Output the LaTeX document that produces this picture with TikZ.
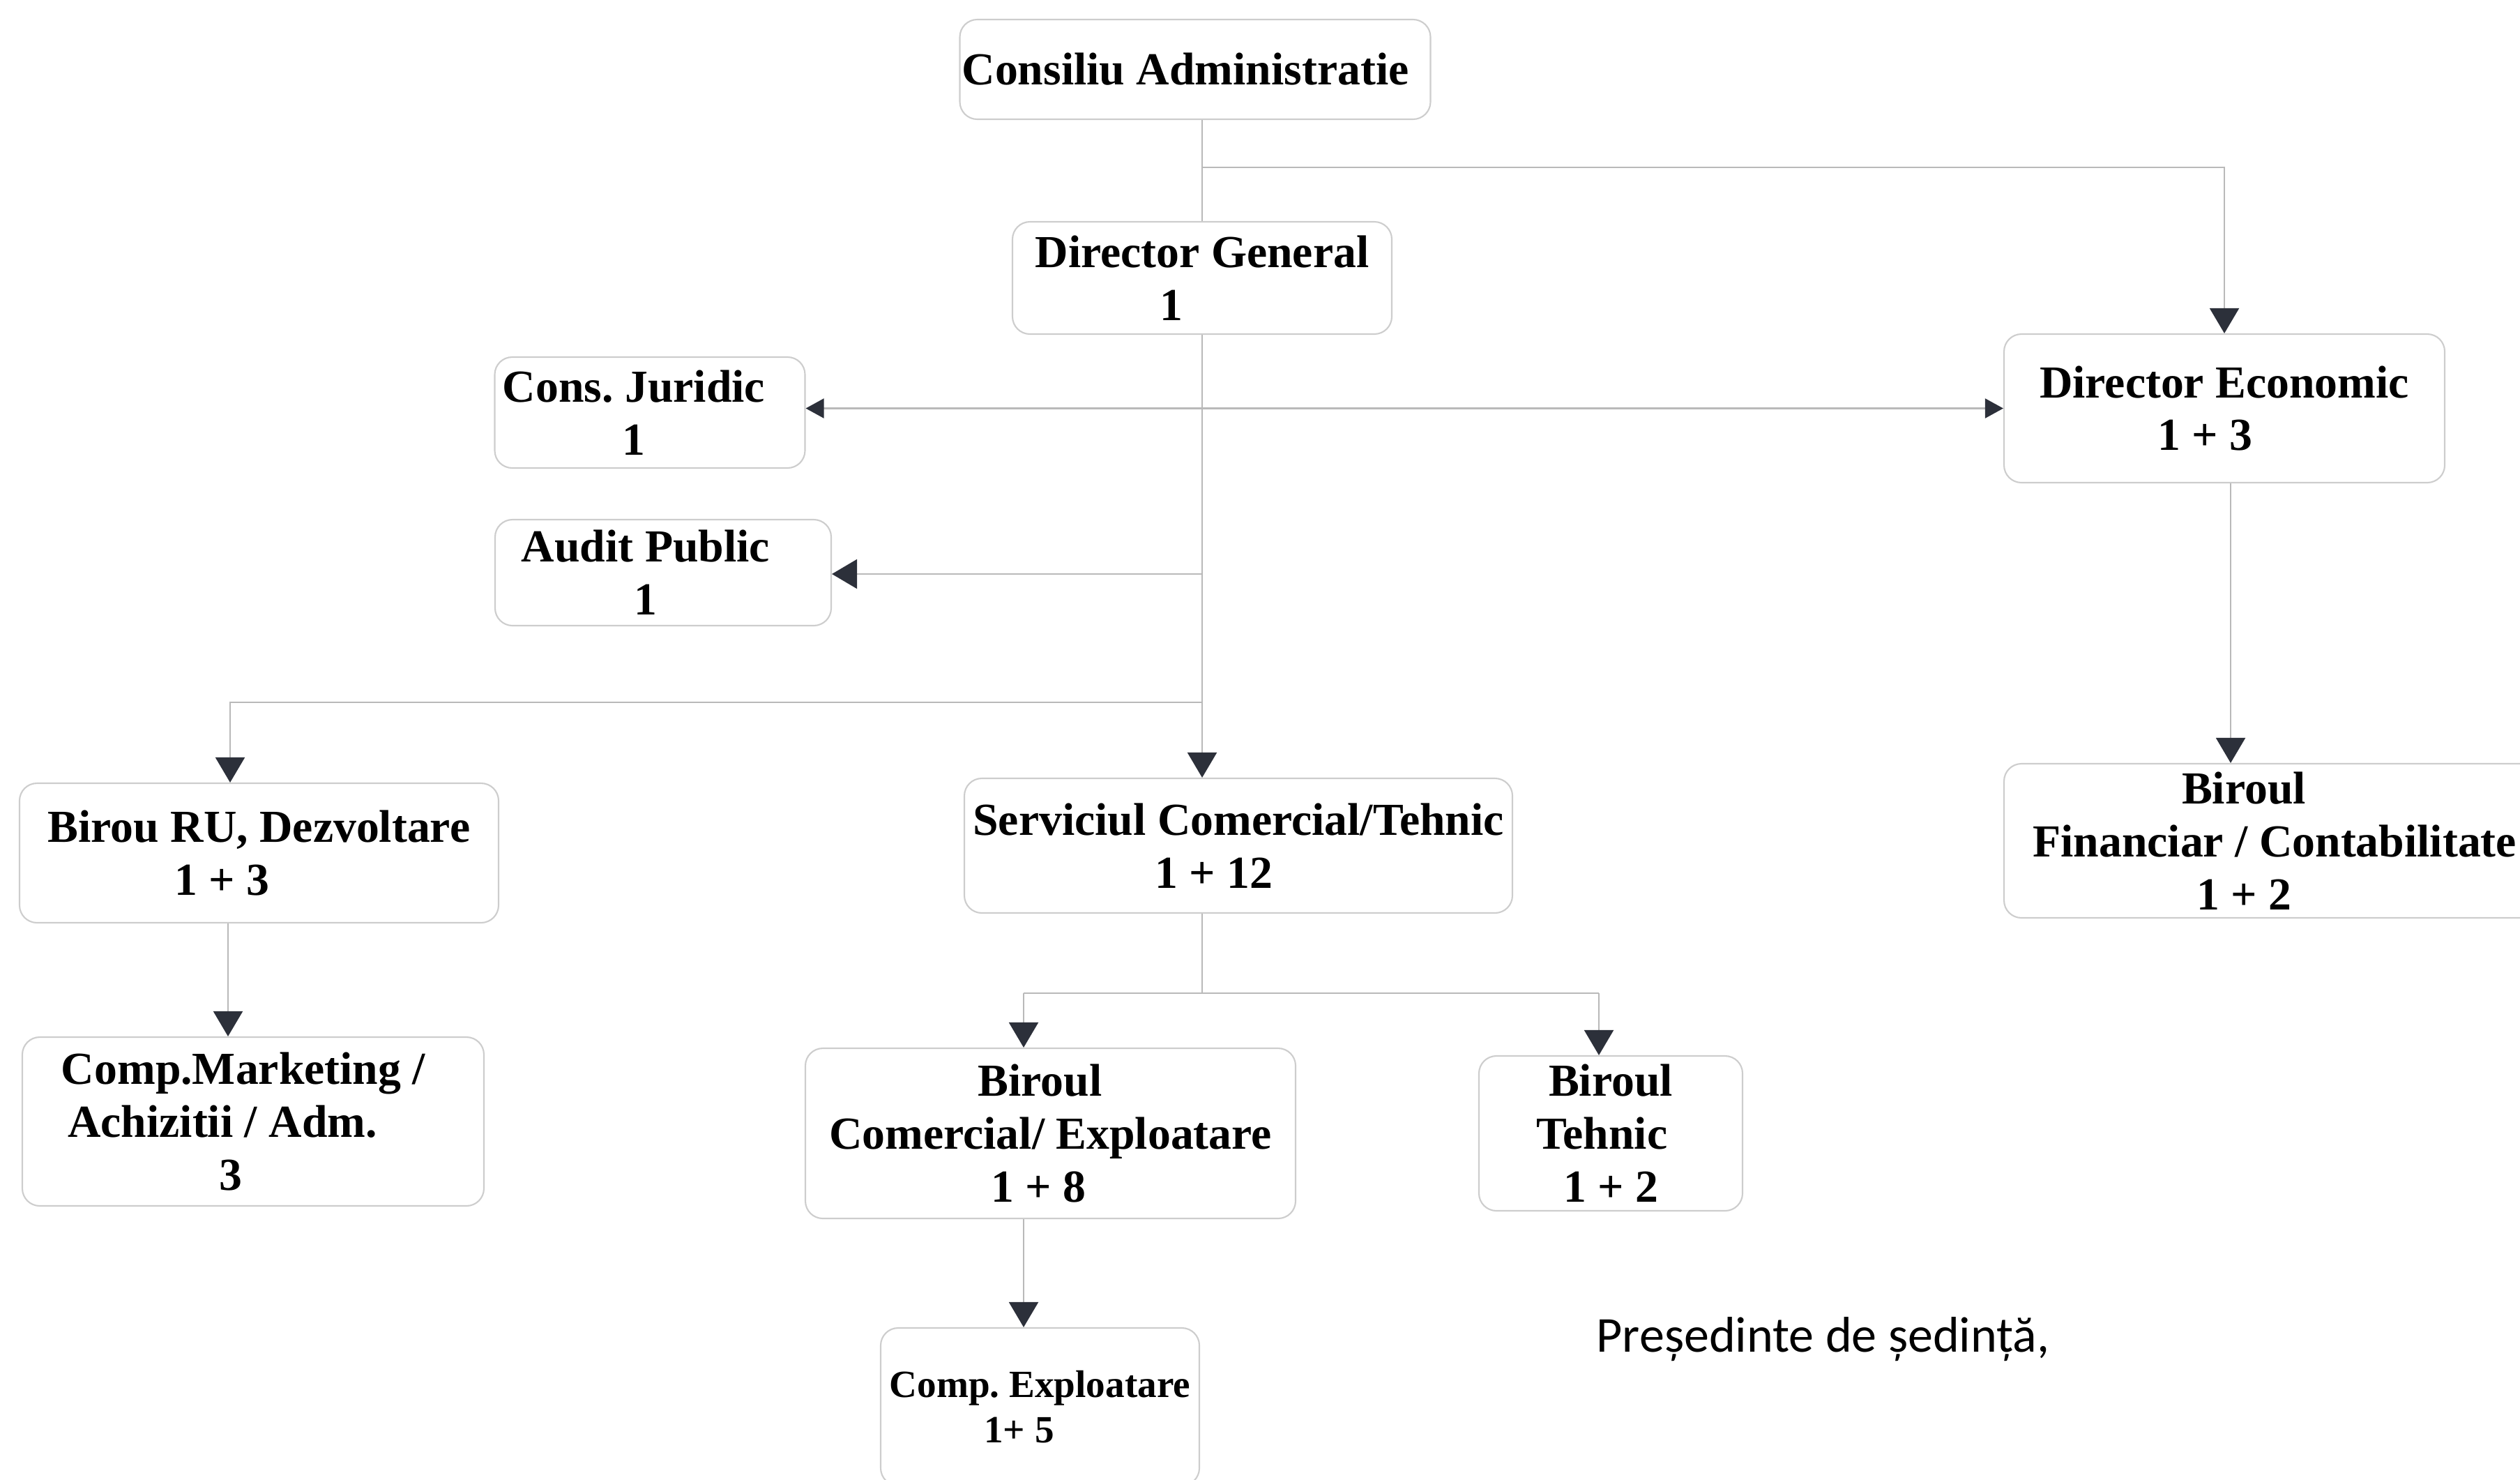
\documentclass[tikz,border=0pt]{standalone}
\usepackage{fontspec}
\setmainfont{Liberation Serif}
\newfontfamily\semnfont{Carlito}
\usetikzlibrary{arrows.meta, calc}
\definecolor{tipc}{RGB}{44,48,58}
\definecolor{linec}{RGB}{185,185,185}
\definecolor{boxc}{RGB}{205,205,205}
\newcommand{\boxfont}{\fontsize{18.7}{21.6}\selectfont\bfseries}
\newcommand{\smallboxfont}{\fontsize{15.7}{18.4}\selectfont\bfseries}
\frenchspacing
\tikzset{
  unit/.style={draw=boxc, line width=0.6pt, rounded corners=0.25cm, align=center, font=\boxfont, inner sep=0pt},
  link/.style={draw=linec, line width=0.6pt},
  downarr/.style={-{Triangle[length=0.36cm, width=0.42cm, color=tipc]}},
  twoarr/.style={{Triangle[length=0.26cm, width=0.28cm, color=tipc]}-{Triangle[length=0.26cm, width=0.28cm, color=tipc]}}
}
\def\scale{1}

\begin{document}
\begin{tikzpicture}[scale=\scale]
	\useasboundingbox (0,0) rectangle (36.14,-21.21);

	% boxes
	\node[unit, minimum width=6.75cm, minimum height=1.43cm] (CA) at (17.14,-0.995) {Consiliu Administratie\kern0.28cm};
	\node[unit, minimum width=5.44cm, minimum height=1.61cm] (DG) at (17.24,-3.985) {Director General\\1\kern0.88cm};
	\node[unit, minimum width=4.45cm, minimum height=1.59cm] (CJ) at (9.32,-5.915) {Cons. Juridic\kern0.46cm\\1\kern0.46cm};
	\node[unit, minimum width=4.82cm, minimum height=1.52cm] (AP) at (9.51,-8.21) {Audit Public\kern0.5cm\\1\kern0.5cm};
	\node[unit, minimum width=6.32cm, minimum height=2.13cm] (DE) at (31.90,-5.855) {Director Economic\\1 + 3\kern0.55cm};
	\node[unit, minimum width=6.87cm, minimum height=2.00cm] (BRU) at (3.715,-12.23) {Birou RU, Dezvoltare\\1 + 3\kern1.06cm};
	\node[unit, minimum width=7.86cm, minimum height=1.93cm] (SCT) at (17.76,-12.125) {Serviciul Comercial/Tehnic\\1 + 12\kern0.7cm};
	\node[unit, minimum width=7.76cm, minimum height=2.21cm] (BF) at (32.62,-12.055) {Biroul\kern0.88cm\\Financiar / Contabilitate\\1 + 2\kern0.88cm};
	\node[unit, minimum width=6.62cm, minimum height=2.42cm] (CM) at (3.63,-16.08) {Comp.Marketing /\kern0.28cm\\Achizitii / Adm.\kern0.88cm\\3\kern0.64cm};
	\node[unit, minimum width=7.03cm, minimum height=2.44cm] (BC) at (15.065,-16.25) {Biroul\kern0.3cm\\Comercial/ Exploatare\\1 + 8\kern0.35cm};
	\node[unit, minimum width=3.78cm, minimum height=2.22cm] (BT) at (23.10,-16.25) {Biroul\\Tehnic\kern0.25cm\\1 + 2};
	\node[unit, font=\smallboxfont, minimum width=4.57cm, minimum height=2.26cm] (CE) at (14.915,-20.17) {Comp. Exploatare\\1+ 5\kern0.6cm};

	\node[anchor=west, inner sep=0pt, font=\semnfont\fontsize{20.5}{24}\selectfont] (PS) at (22.89,-19.20) {Președinte de ședință,};

	% junctions
	\coordinate (j1) at (17.24,-2.40);
	\coordinate (j2) at (17.24,-8.23);
	\coordinate (j3) at (17.24,-10.07);
	\coordinate (k3) at (3.30,-10.07);
	\coordinate (k4) at (3.27,-14.0);
	\coordinate (j4) at (17.24,-14.24);
	\coordinate (k5) at (14.68,-14.24);
	\coordinate (k6) at (22.93,-14.24);
	\coordinate (k7) at (31.99,-8.0);

	\draw[link] (CA.south -| DG.north) -- (DG.north);
	\draw[link, downarr] (DG.south) -- (DG.south |- SCT.north);
	\draw[link, downarr] (j1) -| (DE.north);
	\draw[link, twoarr] (CJ.east |- DE.west) -- (DE.west);
	\draw[link, downarr] (j2) -- (AP.east |- j2);
	\draw[link, downarr] (j3) -- (k3) -- (k3 |- BRU.north);
	\draw[link, downarr] (k4 |- BRU.south) -- (k4 |- CM.north);
	\draw[link] (DG.south |- SCT.south) -- (j4);
	\draw[link] (k5) -- (k6);
	\draw[link, downarr] (k5) -- (k5 |- BC.north);
	\draw[link, downarr] (k6) -- (k6 |- BT.north);
	\draw[link, downarr] (k5 |- BC.south) -- (k5 |- CE.north);
	\draw[link, downarr] (k7 |- DE.south) -- (k7 |- BF.north);

\end{tikzpicture}
\end{document}
